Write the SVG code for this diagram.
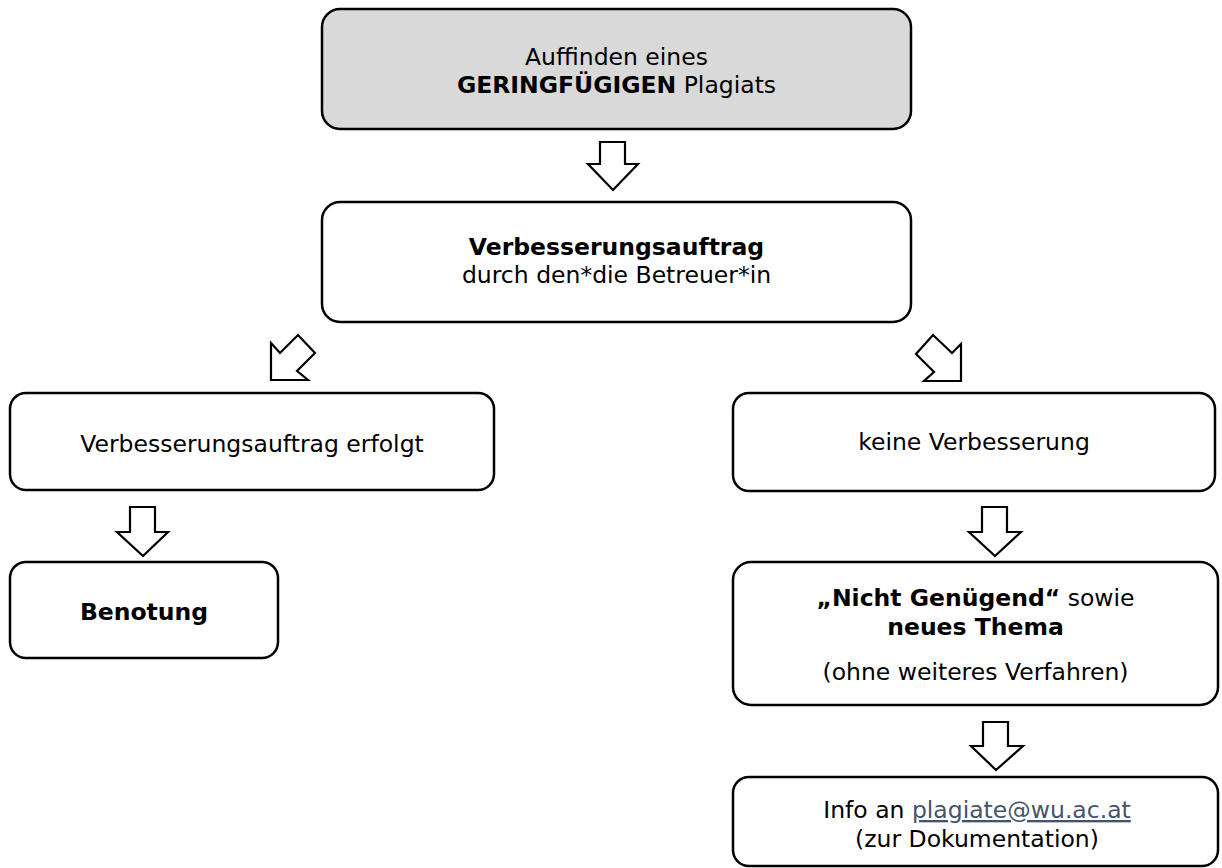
<svg xmlns="http://www.w3.org/2000/svg" width="1222" height="868" viewBox="0 0 1222 868">
<style>
.box{fill:#fff;stroke:#000;stroke-width:2.5}
.grey{fill:#d9d9d9}
.arr{fill:#fff;stroke:#000;stroke-width:2.2;stroke-linejoin:miter}
text{font-family:"DejaVu Sans","Verdana",sans-serif;font-size:23.5px;fill:#000;text-anchor:middle}
.b{font-weight:bold}
.link{fill:#44546a;text-decoration:underline}
</style>
<rect width="1222" height="868" fill="#fff"/>
<g id="n1">
<rect class="box grey" x="322" y="9" width="589" height="120" rx="18"/>
<text x="616.5" y="65">Auffinden eines</text>
<text x="616.5" y="93"><tspan class="b">GERINGFÜGIGEN</tspan> Plagiats</text>
</g>
<g id="n2">
<rect class="box" x="322" y="202" width="589" height="120" rx="18"/>
<text class="b" x="616.5" y="255">Verbesserungsauftrag</text>
<text x="616.5" y="283">durch den*die Betreuer*in</text>
</g>
<g id="n3">
<rect class="box" x="10" y="393" width="484" height="97" rx="16"/>
<text x="252" y="452">Verbesserungsauftrag erfolgt</text>
</g>
<g id="n4">
<rect class="box" x="10" y="562" width="268" height="96" rx="16"/>
<text class="b" x="144" y="620">Benotung</text>
</g>
<g id="n5">
<rect class="box" x="733" y="393" width="482" height="98" rx="16"/>
<text x="974" y="450">keine Verbesserung</text>
</g>
<g id="n6">
<rect class="box" x="733" y="562" width="485" height="143" rx="18"/>
<text x="975.5" y="606"><tspan class="b">„Nicht Genügend“</tspan> sowie</text>
<text class="b" x="975.5" y="635">neues Thema</text>
<text x="975.5" y="680">(ohne weiteres Verfahren)</text>
</g>
<g id="n7">
<rect class="box" x="733" y="777" width="485" height="89" rx="16"/>
<text x="977" y="818">Info an <tspan class="link">plagiate@wu.ac.at</tspan></text>
<text x="977" y="847">(zur Dokumentation)</text>
</g>
<g id="connectors">
<polygon class="arr" points="600,142 625,142 625,164 638,164 613,190 588,164 600,164"/>
<polygon class="arr" points="271,343 280,353 298,335 315,353 297,371 308,380 271,380"/>
<polygon class="arr" points="961,344 952,353 933,335 916,354 934,372 924,381 961,381"/>
<polygon class="arr" points="130,507 155,507 155,532 168,532 143,556 117,532 130,532"/>
<polygon class="arr" points="982,507 1007,507 1007,532 1021,532 995,556 969,532 982,532"/>
<polygon class="arr" points="983,722 1008,722 1008,746 1023,746 996,770 971,746 983,746"/>
</g>
</svg>
